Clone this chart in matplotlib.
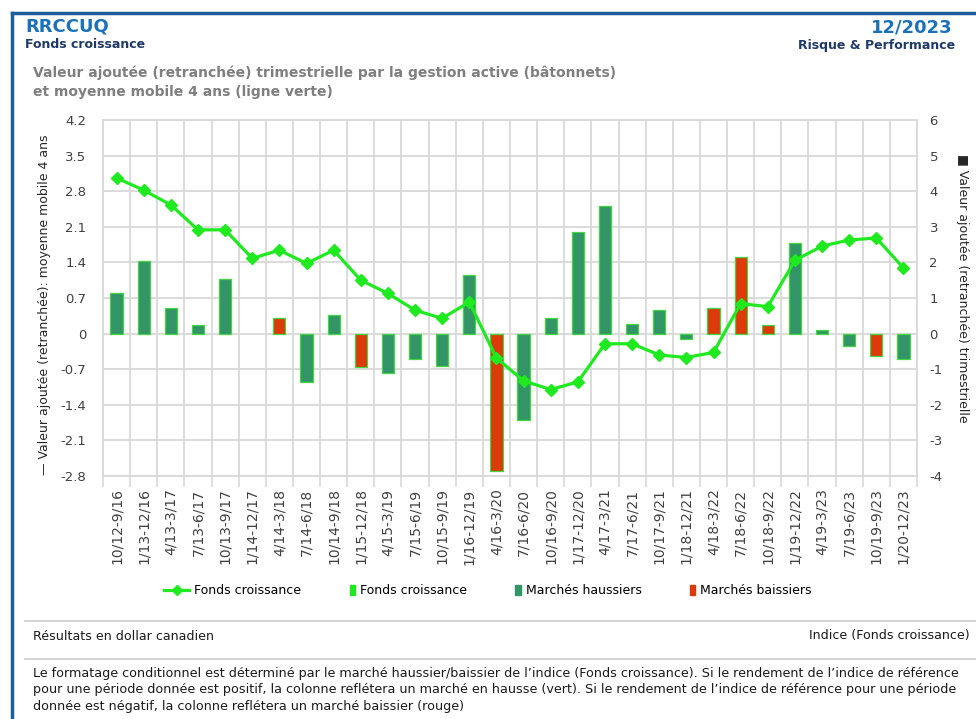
import numpy as np
import matplotlib
matplotlib.use("Agg")
import matplotlib.pyplot as plt
from matplotlib.lines import Line2D
from matplotlib.patches import Patch, Rectangle
from matplotlib.legend_handler import HandlerPatch


# =========================
# DATA
# =========================
periods = [
    "10/12-9/16", "1/13-12/16", "4/13-3/17", "7/13-6/17", "10/13-9/17",
    "1/14-12/17", "4/14-3/18", "7/14-6/18", "10/14-9/18", "1/15-12/18",
    "4/15-3/19", "7/15-6/19", "10/15-9/19", "1/16-12/19", "4/16-3/20",
    "7/16-6/20", "10/16-9/20", "1/17-12/20", "4/17-3/21", "7/17-6/21",
    "10/17-9/21", "1/18-12/21", "4/18-3/22", "7/18-6/22", "10/18-9/22",
    "1/19-12/22", "4/19-3/23", "7/19-6/23", "10/19-9/23", "1/20-12/23",
]

# quarterly value added (bars, right axis)
quarterly = [
    1.15, 2.05, 0.71, 0.24, 1.52, 0.0, 0.43, -1.35, 0.52, -0.95,
    -1.11, -0.70, -0.92, 1.64, -3.86, -2.44, 0.43, 2.84, 3.58, 0.28,
    0.65, -0.16, 0.71, 2.15, 0.23, 2.55, 0.09, -0.35, -0.63, -0.72,
]

# H = bull market (green), B = bear market (red)
market = [
    "H", "H", "H", "H", "H", "H", "B", "H", "H", "B",
    "H", "H", "H", "H", "B", "H", "H", "H", "H", "H",
    "H", "H", "B", "B", "B", "H", "H", "H", "B", "H",
]

# 4-year moving average (line, left axis)
moving_avg = [
    3.06, 2.82, 2.53, 2.04, 2.04, 1.48, 1.64, 1.38, 1.64, 1.05,
    0.79, 0.46, 0.30, 0.62, -0.48, -0.93, -1.10, -0.95, -0.20, -0.20,
    -0.42, -0.47, -0.37, 0.59, 0.53, 1.44, 1.72, 1.84, 1.88, 1.29,
]

left_ticks = [-2.8, -2.1, -1.4, -0.7, 0, 0.7, 1.4, 2.1, 2.8, 3.5, 4.2]
right_ticks = [-4, -3, -2, -1, 0, 1, 2, 3, 4, 5, 6]


# =========================
# STYLE
# =========================
bull_color = "#339467"
bear_color = "#DD3A0A"
edge_color = "#3FD83F"
line_color = "#1FEA1F"
grid_color = "#D9D9D9"
tick_color = "#404040"
blue = "#1B72BA"
navy = "#1F3A6A"

W, H = 976, 719
fig = plt.figure(figsize=(W / 100, H / 100), dpi=100)
fig.patch.set_facecolor("white")

ax = fig.add_axes([103 / W, 1 - 476 / H, 814 / W, 356 / H])
ax2 = ax.twinx()

x = np.arange(len(periods))

# bars (right scale)
bar_colors = [bull_color if m == "H" else bear_color for m in market]
bar_edges = [edge_color if v != 0 else "none" for v in quarterly]
ax.bar(x, quarterly, width=0.45, color=bar_colors,
       edgecolor=bar_edges, linewidth=0.9, zorder=2)
ax.set_ylim(-4, 6)
ax.set_yticks(right_ticks)
ax.set_yticklabels([str(t) for t in right_ticks])
ax.yaxis.tick_right()
ax.tick_params(axis="y", length=0, pad=9, labelsize=9.5, labelcolor=tick_color)

# line (left scale)
ax2.plot(x, moving_avg, color=line_color, linewidth=2.3,
         marker="D", markersize=6, zorder=3)
ax2.set_ylim(-2.8, 4.2)
ax2.set_yticks(left_ticks)
ax2.set_yticklabels(["0" if t == 0 else f"{t:.1f}" for t in left_ticks])
ax2.yaxis.tick_left()
ax2.tick_params(axis="y", length=0, pad=12, labelsize=9.5, labelcolor=tick_color)
for s in ax2.spines.values():
    s.set_visible(False)

# x axis
ax.set_xlim(-0.5, len(periods) - 0.5)
ax.set_xticks(x)
ax.set_xticklabels(periods, rotation=90)
ax.set_xticks(np.arange(-0.5, len(periods)), minor=True)
ax.tick_params(axis="x", which="major", length=0, pad=9,
               labelsize=10, labelcolor=tick_color)
ax.tick_params(axis="x", which="minor", length=8, width=1.2, color=grid_color)

# grid
ax.set_axisbelow(True)
ax.grid(True, axis="y", which="major", color=grid_color, linewidth=1.3)
ax.grid(True, axis="x", which="minor", color=grid_color, linewidth=1.3)
for s in ax.spines.values():
    s.set_color(grid_color)
    s.set_linewidth(1.3)

# axis titles
fig.text(45 / W, 1 - 305 / H,
         "— Valeur ajoutée (retranchée): moyenne mobile 4 ans",
         rotation=90, ha="center", va="center", fontsize=9, color="#262626")
fig.text(962 / W, 1 - 288 / H,
         "■ Valeur ajoutée (retranchée) trimestrielle",
         rotation=-90, ha="center", va="center", fontsize=9, color="#262626")


# legend: narrow squares sitting right next to their text
def narrow_square(legend, orig_handle, xdescent, ydescent, width, height, fontsize):
    w = 0.4 * height + 1
    return Rectangle((width - xdescent - w, -ydescent), w, height)


handles = [
    Line2D([0], [0], color=line_color, linewidth=2.3, marker="D", markersize=5),
    Patch(facecolor=line_color, edgecolor=line_color),
    Patch(facecolor=bull_color, edgecolor=bull_color),
    Patch(facecolor=bear_color, edgecolor=bear_color),
]
labels = ["Fonds croissance", "Fonds croissance",
          "Marchés haussiers", "Marchés baissiers"]
fig.legend(handles, labels, loc="center", bbox_to_anchor=(0.5, 1 - 591 / H),
           ncol=4, frameon=False, fontsize=9, handlelength=2.0,
           handleheight=0.8, handletextpad=0.4, columnspacing=2.3,
           handler_map={Patch: HandlerPatch(patch_func=narrow_square)})

# =========================
# HEADER / FOOTER
# =========================
fig.text(25 / W, 1 - 27 / H, "RRCCUQ", fontsize=13, fontweight="bold",
         color=blue, ha="left", va="center")
fig.text(25 / W, 1 - 45 / H, "Fonds croissance", fontsize=9,
         fontweight="bold", color=navy, ha="left", va="center")
fig.text(953 / W, 1 - 27 / H, "12/2023", fontsize=13, fontweight="bold",
         color=blue, ha="right", va="center")
fig.text(955 / W, 1 - 45 / H, "Risque & Performance", fontsize=9,
         fontweight="bold", color=navy, ha="right", va="center")

fig.text(33 / W, 1 - 73 / H,
         "Valeur ajoutée (retranchée) trimestrielle par la gestion active (bâtonnets)",
         fontsize=10, fontweight="bold", color="#7F7F7F", ha="left", va="center")
fig.text(33 / W, 1 - 92 / H, "et moyenne mobile 4 ans (ligne verte)",
         fontsize=10, fontweight="bold", color="#7F7F7F", ha="left", va="center")

fig.text(33 / W, 1 - 636 / H, "Résultats en dollar canadien",
         fontsize=9.1, color="#1A1A1A", ha="left", va="center")
fig.text(970 / W, 1 - 636 / H, "Indice (Fonds croissance)",
         fontsize=9.1, color="#1A1A1A", ha="right", va="center")

note = ("Le formatage conditionnel est déterminé par le marché haussier/baissier de l’indice "
        "(Fonds croissance). Si le rendement de l’indice de référence\n"
        "pour une période donnée est positif, la colonne reflétera un marché en hausse (vert). "
        "Si le rendement de l’indice de référence pour une période\n"
        "donnée est négatif, la colonne reflétera un marché baissier (rouge)")
fig.text(33 / W, 1 - 667 / H, note, fontsize=9.2, color="#1A1A1A",
         ha="left", va="top", linespacing=1.35)

# separators and frame
for yy in (621, 659):
    fig.add_artist(Line2D([25 / W, 1], [1 - yy / H, 1 - yy / H],
                          transform=fig.transFigure, color="#D0D0D0", linewidth=1.3))
fig.add_artist(Line2D([12 / W, 12 / W], [0, 1 - 13 / H],
                      transform=fig.transFigure, color="#1F5C99", linewidth=2.5))
fig.add_artist(Line2D([12 / W, 1], [1 - 13 / H, 1 - 13 / H],
                      transform=fig.transFigure, color="#1F5C99", linewidth=2.5))

fig.savefig("out.png", dpi=100)
